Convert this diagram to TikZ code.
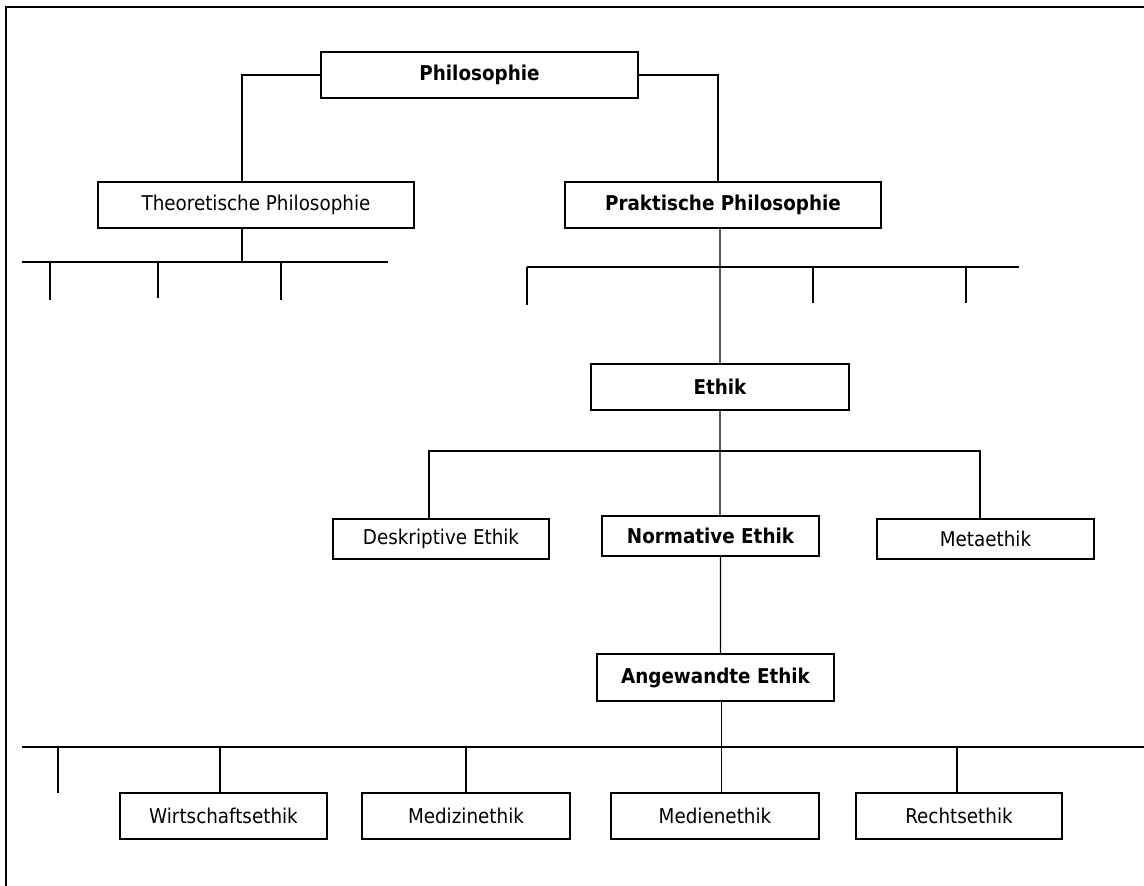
\documentclass[tikz,border=0pt]{standalone}
\usepackage{fontspec}
\setmainfont{DejaVu Sans Condensed}

\begin{document}
\begin{tikzpicture}[x=0.02cm,y=-0.02cm,%
  BoxStyle/.style={shape=rectangle,draw=black,line width=1.1pt,
    inner sep=0pt,font=\fontsize{11.6}{13}\selectfont},
  BoldStyle/.style={BoxStyle,font=\fontsize{11.6}{13}\selectfont\bfseries},
  EdgeStyle/.style={draw=black,line width=0.6pt}]
  \useasboundingbox (0,0) rectangle (1144,886);
  \draw[line width=1.1pt] (6,886) -- (6,7) -- (1144,7);  % frame
  \node[BoldStyle,minimum width=6.34cm,minimum height=0.92cm] (phil) at (479.5,75) {Philosophie};
  \node[BoxStyle,minimum width=6.32cm,minimum height=0.92cm] (theo) at (256,205) {Theoretische Philosophie};
  \node[BoldStyle,minimum width=6.32cm,minimum height=0.92cm] (prakt) at (723,205) {Praktische Philosophie};
  \node[BoldStyle,minimum width=5.16cm,minimum height=0.92cm] (ethik) at (720,387) {Ethik};
  \node[BoxStyle,minimum width=4.32cm,minimum height=0.8cm] (deskr) at (441,539) {Deskriptive Ethik};
  \node[BoldStyle,minimum width=4.34cm,minimum height=0.8cm] (norm) at (710.5,536) {Normative Ethik};
  \node[BoxStyle,minimum width=4.34cm,minimum height=0.8cm] (meta) at (985.5,539) {Metaethik};
  \node[BoldStyle,minimum width=4.74cm,minimum height=0.94cm] (angew) at (715.5,677.5) {Angewandte Ethik};
  \node[BoxStyle,minimum width=4.14cm,minimum height=0.92cm] (wirt) at (223.5,816) {Wirtschaftsethik};
  \node[BoxStyle,minimum width=4.16cm,minimum height=0.92cm] (mediz) at (466,816) {Medizinethik};
  \node[BoxStyle,minimum width=4.16cm,minimum height=0.92cm] (medien) at (715,816) {Medienethik};
  \node[BoxStyle,minimum width=4.12cm,minimum height=0.92cm] (recht) at (959,816) {Rechtsethik};
  % bars
  \coordinate (tl) at (22,262);   \coordinate (tr) at (388,262);
  \coordinate (pl) at (527,267);  \coordinate (pr) at (1019,267);
  \coordinate (eb) at (720,451);
  \coordinate (al) at (22,747);   \coordinate (ar) at (1144,747);
  % Philosophie
  \draw[EdgeStyle] (phil.west) -| ([xshift=-0.28cm]theo.north);
  \draw[EdgeStyle] (phil.east) -| ([xshift=-0.1cm]prakt.north);
  % Theoretische Philosophie
  \draw[EdgeStyle] ([xshift=-0.28cm]theo.south) |- (tl);
  \draw[EdgeStyle] (tl) -- (tr);
  \foreach \x/\y in {50/300,158/298,281/300}
    \draw[EdgeStyle] (\x,262) -- (\x,\y);
  % Praktische Philosophie
  \draw[EdgeStyle] ([xshift=-0.06cm]prakt.south) -- (ethik.north);
  \draw[EdgeStyle] (pl) -- (pr);
  \foreach \x/\y in {527/305,813/303,966/303}
    \draw[EdgeStyle] (\x,267) -- (\x,\y);
  % Ethik
  \draw[EdgeStyle] ([xshift=-0.24cm]deskr.north) |- (eb) -| ([xshift=-0.11cm]meta.north);
  \draw[EdgeStyle] (ethik.south) -- ([xshift=0.19cm]norm.north);
  \draw[EdgeStyle] ([xshift=0.2cm]norm.south) -- ([xshift=0.1cm]angew.north);
  % Angewandte Ethik
  \draw[EdgeStyle] ([xshift=0.13cm]medien.north) -- ([xshift=0.13cm]medien.north |- angew.south);
  \draw[EdgeStyle] (al) -- (ar);
  \draw[EdgeStyle] (58,747) -- (58,793);
  \draw[EdgeStyle] ([xshift=-0.07cm]wirt.north) -- ([xshift=-0.07cm]wirt.north |- al);
  \draw[EdgeStyle] (mediz.north) -- (mediz.north |- al);
  \draw[EdgeStyle] ([xshift=-0.04cm]recht.north) -- ([xshift=-0.04cm]recht.north |- al);
\end{tikzpicture}
\end{document}
